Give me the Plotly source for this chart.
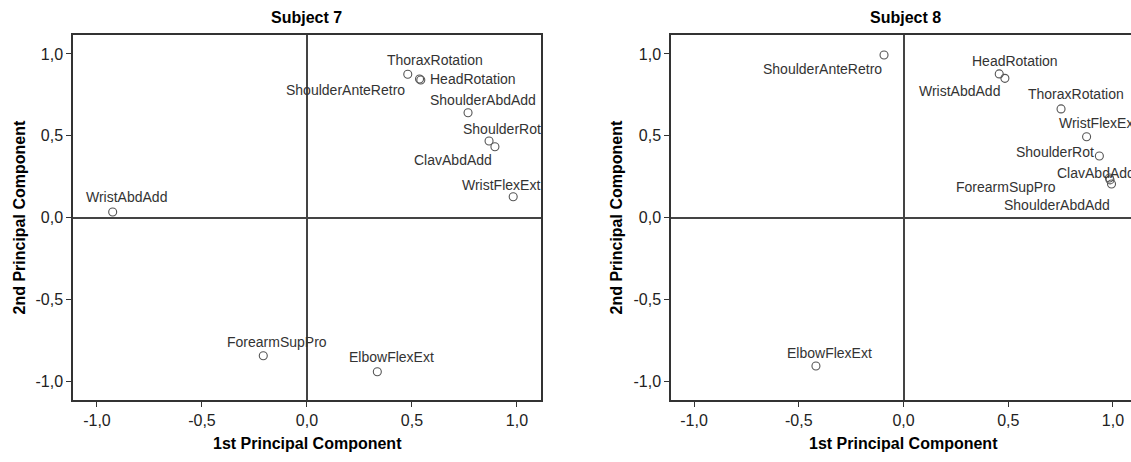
import plotly.graph_objects as go

# ---- data ----
labels7 = ["ThoraxRotation", "HeadRotation", "ShoulderAnteRetro", "ShoulderAbdAdd", "ShoulderRot",
           "ClavAbdAdd", "WristFlexExt", "WristAbdAdd", "ForearmSupPro", "ElbowFlexExt"]
pc1_7 = [0.480, 0.536, 0.542, 0.767, 0.867, 0.895, 0.982, -0.925, -0.208, 0.335]
pc2_7 = [0.876, 0.847, 0.841, 0.641, 0.468, 0.433, 0.127, 0.034, -0.845, -0.943]

labels8 = ["ShoulderAnteRetro", "HeadRotation", "WristAbdAdd", "ThoraxRotation", "WristFlexExt",
           "ShoulderRot", "ClavAbdAdd", "ForearmSupPro", "ShoulderAbdAdd", "ElbowFlexExt"]
pc1_8 = [-0.093, 0.457, 0.484, 0.752, 0.874, 0.935, 0.983, 0.986, 0.993, -0.418]
pc2_8 = [0.994, 0.878, 0.851, 0.664, 0.494, 0.376, 0.242, 0.230, 0.205, -0.908]

tick_vals = [-1.0, -0.5, 0.0, 0.5, 1.0]
tick_text = ["-1,0", "-0,5", "0,0", "0,5", "1,0"]

# label offsets in pixels (style only)
off7 = [(27, 14), (53, 0), (-75, -10), (15, 13), (13, 12), (-42, -13), (-12, 12), (14, 15), (14, 14), (14, 15)]
off8 = [(-62, -14), (16, 13), (-45, -13), (15, 15), (11, 14), (-44, 4), (-13, 5), (-104, -7), (-55, -21), (14, 13)]

FONT = "Liberation Sans, Arial, sans-serif"
W, H = 1131, 462
dom7 = [73 / W, 540.5 / W]
dom8 = [671 / W, 1.0]
ydom = [1 - 400 / H, 1 - 35 / H]

fig = go.Figure()
marker = dict(symbol="circle-open", size=8, color="#555555", line=dict(width=1.1, color="#555555"))
fig.add_trace(go.Scatter(x=pc1_7, y=pc2_7, mode="markers", marker=marker, xaxis="x", yaxis="y",
                         showlegend=False, hoverinfo="skip"))
fig.add_trace(go.Scatter(x=pc1_8, y=pc2_8, mode="markers", marker=marker, xaxis="x2", yaxis="y2",
                         showlegend=False, hoverinfo="skip"))

lab_font = dict(family=FONT, size=14, color="#333333")
annotations = []
for lab, xv, yv, (dx, dy) in zip(labels7, pc1_7, pc2_7, off7):
    annotations.append(dict(x=xv, y=yv, xref="x", yref="y", text=lab, showarrow=False,
                            xanchor="center", yanchor="middle", xshift=dx, yshift=dy, font=lab_font))
for lab, xv, yv, (dx, dy) in zip(labels8, pc1_8, pc2_8, off8):
    annotations.append(dict(x=xv, y=yv, xref="x2", yref="y2", text=lab, showarrow=False,
                            xanchor="center", yanchor="middle", xshift=dx, yshift=dy, font=lab_font))

title_font = dict(family=FONT, size=16, color="#000000")
axt_font = dict(family=FONT, size=16, color="#000000")
common_ann = dict(xref="paper", yref="paper", showarrow=False, xanchor="center", yanchor="middle")
annotations += [
    dict(x=(dom7[0] + dom7[1]) / 2, y=1 - 17 / H, text="<b>Subject 7</b>", font=title_font, **common_ann),
    dict(x=(671 + 1139) / 2 / W, y=1 - 17 / H, text="<b>Subject 8</b>", font=title_font, **common_ann),
    dict(x=307 / W, y=1 - 443 / H, text="<b>1st Principal Component</b>", font=axt_font, **common_ann),
    dict(x=903.5 / W, y=1 - 443 / H, text="<b>1st Principal Component</b>", font=axt_font, **common_ann),
    dict(x=19 / W, y=1 - 217.5 / H, text="<b>2nd Principal Component</b>", textangle=-90,
         font=axt_font, **common_ann),
    dict(x=616 / W, y=1 - 217.5 / H, text="<b>2nd Principal Component</b>", textangle=-90,
         font=axt_font, **common_ann),
]

axcommon = dict(showgrid=False, zeroline=True, zerolinecolor="#444444", zerolinewidth=1.6,
                showline=True, linecolor="#333333", linewidth=1.5, ticks="outside", ticklen=5,
                tickcolor="#333333", tickwidth=1, tickvals=tick_vals, ticktext=tick_text,
                tickfont=dict(family=FONT, size=16, color="#222222"), fixedrange=True)

fig.update_layout(
    width=W, height=H, margin=dict(l=0, r=0, t=0, b=0),
    paper_bgcolor="white", plot_bgcolor="white",
    xaxis=dict(domain=dom7, range=[-1.114, 1.112], anchor="y", mirror=True, **axcommon),
    yaxis=dict(domain=ydom, range=[-1.116, 1.116], anchor="x", mirror=True, **axcommon),
    xaxis2=dict(domain=dom8, range=[-1.11, 1.086], anchor="y2", mirror=True, **axcommon),
    yaxis2=dict(domain=ydom, range=[-1.116, 1.116], anchor="x2", mirror=False, **axcommon),
    annotations=annotations,
)

fig.write_html("out.html")
